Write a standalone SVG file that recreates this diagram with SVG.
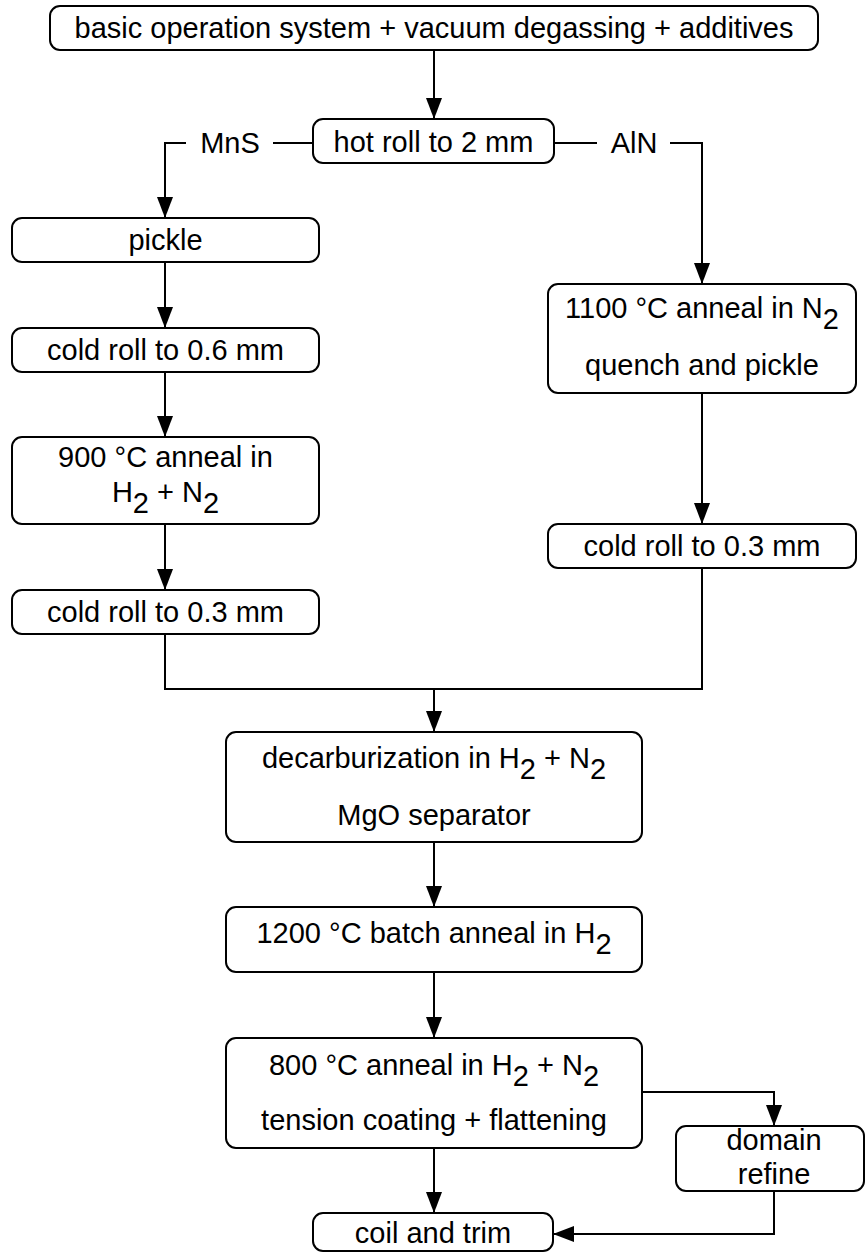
<svg xmlns="http://www.w3.org/2000/svg" width="865" height="1253" viewBox="0 0 865 1253">
<style>
.box{fill:#fff;stroke:#000;stroke-width:2}
.t{font-family:"Liberation Sans",Arial,Helvetica,sans-serif;font-size:29px;fill:#000;text-anchor:middle}
.c{fill:none;stroke:#000;stroke-width:2}
</style>
<defs>
<marker id="ah" markerUnits="userSpaceOnUse" markerWidth="22" markerHeight="18" refX="21" refY="8" orient="auto">
<path d="M0,0 L21,8 L0,16 z" fill="#000"/>
</marker>
</defs>
<rect width="865" height="1253" fill="#fff"/>
<g id="connectors">
<path class="c" d="M434,50 V119" marker-end="url(#ah)"/>
<path class="c" d="M313,143 H273"/>
<path class="c" d="M186,143 H165 V218" marker-end="url(#ah)"/>
<path class="c" d="M554,143 H597"/>
<path class="c" d="M670,143 H702 V284" marker-end="url(#ah)"/>
<path class="c" d="M165,262 V328" marker-end="url(#ah)"/>
<path class="c" d="M165,372 V437" marker-end="url(#ah)"/>
<path class="c" d="M165,524 V590" marker-end="url(#ah)"/>
<path class="c" d="M702,393 V524" marker-end="url(#ah)"/>
<path class="c" d="M165,634 V689 H702 V568"/>
<path class="c" d="M434,689 V732" marker-end="url(#ah)"/>
<path class="c" d="M434,842 V907" marker-end="url(#ah)"/>
<path class="c" d="M434,972 V1038" marker-end="url(#ah)"/>
<path class="c" d="M434,1148 V1213" marker-end="url(#ah)"/>
<path class="c" d="M642,1092 H774 V1126" marker-end="url(#ah)"/>
<path class="c" d="M774,1191 V1234 H553" marker-end="url(#ah)"/>
</g>
<g id="n-start"><rect class="box" x="50" y="6" width="768" height="44" rx="10"/><text class="t" x="434" y="38">basic operation system + vacuum degassing + additives</text></g>
<g id="n-hotroll"><rect class="box" x="313" y="119" width="241" height="44" rx="10"/><text class="t" x="433.5" y="152">hot roll to 2 mm</text></g>
<g id="l-mns"><text class="t" x="230" y="153">MnS</text></g>
<g id="l-ain"><text class="t" x="634" y="153">AlN</text></g>
<g id="n-pickle"><rect class="box" x="12" y="218" width="307" height="44" rx="10"/><text class="t" x="165.5" y="250">pickle</text></g>
<g id="n-cold06"><rect class="box" x="12" y="328" width="307" height="44" rx="10"/><text class="t" x="165.5" y="360">cold roll to 0.6 mm</text></g>
<g id="n-900"><rect class="box" x="12" y="437" width="307" height="87" rx="10"/><text class="t" x="165.5" y="467">900 °C anneal in</text><text class="t" x="165.5" y="502">H<tspan dy="11">2</tspan><tspan dy="-11"> + N</tspan><tspan dy="11">2</tspan></text></g>
<g id="n-cold03l"><rect class="box" x="12" y="590" width="307" height="44" rx="10"/><text class="t" x="165.5" y="622">cold roll to 0.3 mm</text></g>
<g id="n-1100"><rect class="box" x="548" y="284" width="308" height="109" rx="10"/><text class="t" x="702" y="318">1100 °C anneal in N<tspan dy="11">2</tspan></text><text class="t" x="702" y="375">quench and pickle</text></g>
<g id="n-cold03r"><rect class="box" x="548" y="524" width="308" height="44" rx="10"/><text class="t" x="702" y="556">cold roll to 0.3 mm</text></g>
<g id="n-decarb"><rect class="box" x="226" y="732" width="416" height="110" rx="10"/><text class="t" x="434" y="768">decarburization in H<tspan dy="11">2</tspan><tspan dy="-11"> + N</tspan><tspan dy="11">2</tspan></text><text class="t" x="434" y="825">MgO separator</text></g>
<g id="n-1200"><rect class="box" x="226" y="907" width="416" height="65" rx="10"/><text class="t" x="434" y="943">1200 °C batch anneal in H<tspan dy="11">2</tspan></text></g>
<g id="n-800"><rect class="box" x="226" y="1038" width="416" height="110" rx="10"/><text class="t" x="434" y="1075">800 °C anneal in H<tspan dy="11">2</tspan><tspan dy="-11"> + N</tspan><tspan dy="11">2</tspan></text><text class="t" x="434" y="1130">tension coating + flattening</text></g>
<g id="n-domain"><rect class="box" x="676" y="1126" width="188" height="65" rx="10"/><text class="t" x="774" y="1150">domain</text><text class="t" x="774" y="1184">refine</text></g>
<g id="n-coil"><rect class="box" x="313" y="1213" width="240" height="38" rx="10"/><text class="t" x="433" y="1243">coil and trim</text></g>
</svg>
